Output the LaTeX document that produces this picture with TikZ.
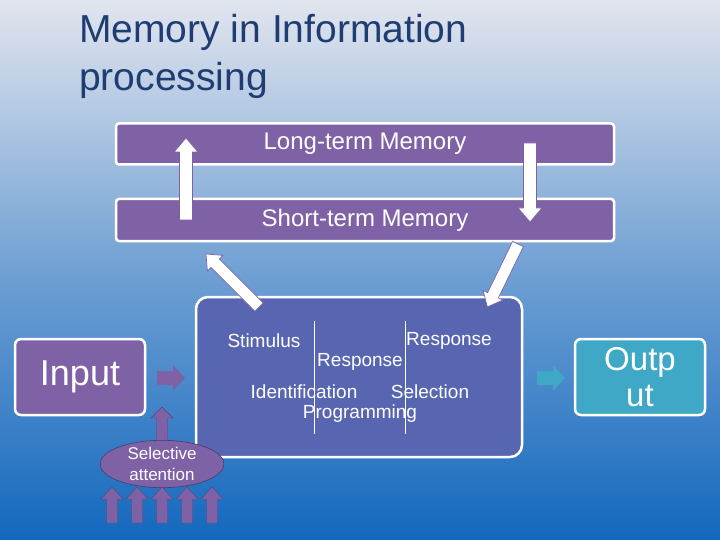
\documentclass[tikz,border=0pt]{standalone}
\usepackage{fontspec}
\setmainfont{Liberation Sans}
\usetikzlibrary{shapes.geometric}
\definecolor{bgtop}{HTML}{E2E5EE}
\definecolor{bgbot}{HTML}{1368BE}
\definecolor{purp}{HTML}{7F62A6}
\definecolor{cbox}{HTML}{5866B2}
\definecolor{teal}{HTML}{3FA8C6}
\definecolor{ttl}{HTML}{1F3D73}
\newcommand\blockarrow[7]{%
  \path[#1,shift={#2},rotate=#3] (0,-#5) -- ({#4-#7},-#5) -- ({#4-#7},-#6) -- (#4,0) -- ({#4-#7},#6) -- ({#4-#7},#5) -- (0,#5) -- cycle;}
\begin{document}
\begin{tikzpicture}[x=1pt,y=-1pt,
  bar/.style={draw=white,line width=2.5pt,fill=purp,rounded corners=3pt,text=white,font=\fontsize{24}{28}\selectfont},
  warrow/.style={draw=purp,fill=white,line width=0.7pt},
  parrow/.style={fill=purp,draw=purp!70!black,line width=0.4pt},
  lbl/.style={text=white,font=\fontsize{19}{22}\selectfont,inner sep=0pt}]
\shade[top color=bgtop,bottom color=bgbot,middle color=bgtop!45!bgbot] (0,0) rectangle (720,540);
\useasboundingbox (0,0) rectangle (720,540);
\node[anchor=north west,text=ttl,align=left,font=\fontsize{39}{48}\selectfont,inner sep=0pt] (title) at (79,14) {Memory in Information\\processing};
\node[bar,minimum width=498pt,minimum height=41pt] (ltm) at (365,144) {Long-term Memory};
\node[bar,minimum width=498pt,minimum height=42pt] (stm) at (365,220) {Short-term Memory};
\blockarrow{warrow}{(186,220)}{90}{82}{6.5}{12}{14}
\blockarrow{warrow}{(530,143)}{-90}{79}{6.5}{12}{14}
\node[draw=white,line width=2.5pt,fill=cbox,rounded corners=12pt,minimum width=326pt,minimum height=160pt] (core) at (359,377) {};
\blockarrow{warrow}{(259,307)}{135}{75}{6}{11}{13}
\blockarrow{warrow}{(518,244)}{-116}{70}{6}{11}{13}
\node[lbl] (s1) at (264,341) {Stimulus};
\node[lbl] (r1) at (449,341) {Response};
\node[lbl] (r2) at (360,362) {Response};
\node[lbl] (id) at (304,392) {Identification};
\node[lbl] (sel) at (430,392) {Selection};
\node[lbl] (pr) at (360,414) {Programming};
\draw[white,line width=0.7pt] (314,321) -- (314,434) (405,321) -- (405,434);
\node[bar,minimum width=130pt,minimum height=76pt,rounded corners=6pt,font=\fontsize{36}{40}\selectfont] (in) at (80,377) {Input};
\node[bar,fill=teal,minimum width=130pt,minimum height=76pt,rounded corners=6pt,font=\fontsize{33}{40}\selectfont,align=center] (out) at (640,377) {Outp\\[-4pt]ut};
\blockarrow{fill=purp}{(157,378)}{0}{28}{7}{13}{12}
\blockarrow{fill=teal}{(537,378)}{0}{28}{7}{13}{12}
\blockarrow{parrow}{(162,445)}{90}{38}{5.5}{11}{11}
\node[ellipse,fill=purp,draw=purp!60!black,line width=0.6pt,minimum width=124pt,minimum height=40pt,inner sep=0pt,align=center,text=white,font=\fontsize{17}{21}\selectfont] (sa) at (162,464) {Selective\\attention};
\foreach \x in {112,137,162,187,212}
  \blockarrow{parrow}{(\x,523)}{90}{36}{5.5}{11}{12};
\end{tikzpicture}
\end{document}
